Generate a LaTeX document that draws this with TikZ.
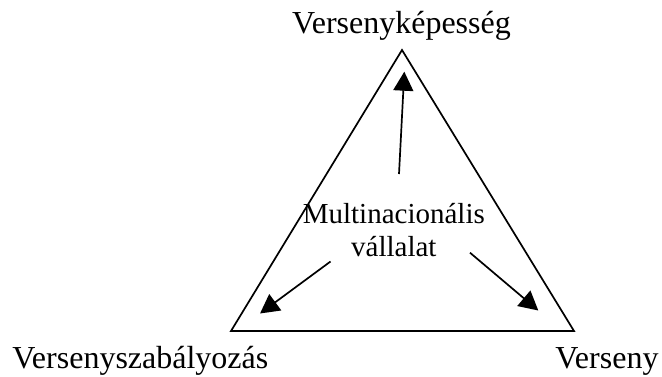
\documentclass[tikz,border=0pt]{standalone}
\usepackage{fontspec}
\setmainfont{Liberation Serif}
\usetikzlibrary{arrows.meta}
\begin{document}
\begin{tikzpicture}[x=0.5pt,y=-0.5pt,
  lbl/.style={inner sep=0pt,font=\fontsize{16pt}{15pt}\selectfont},
  mid/.style={inner sep=0pt,align=center,font=\fontsize{14.5pt}{16.7pt}\selectfont},
  edge/.style={line width=0.85pt},
  arr/.style={line width=0.85pt,-{Triangle[length=9.5pt,width=10pt]}}]
\useasboundingbox (0,0) rectangle (662,376);
\coordinate (A) at (402,50);
\coordinate (B) at (231,331);
\coordinate (C) at (574,331);
\draw[edge,line join=miter] (A) -- (B) -- (C) -- cycle;
\node[lbl,anchor=base] (top) at (401.5,33.5) {Versenyképesség};
\node[lbl,anchor=base west] (left) at (12,368) {Versenyszabályozás};
\node[lbl,anchor=base west] (right) at (555,368) {Verseny};
\node[mid] (mnc) at (393.8,230) {Multinacionális\\vállalat};
\coordinate (t0) at (399,174);
\coordinate (t1) at (404.3,71.7);
\coordinate (l0) at (330.5,261.5);
\coordinate (l1) at (260,313.5);
\coordinate (r0) at (470,252.7);
\coordinate (r1) at (538.3,310.5);
\draw[arr] (t0) -- (t1);
\draw[arr] (l0) -- (l1);
\draw[arr] (r0) -- (r1);
\end{tikzpicture}
\end{document}
